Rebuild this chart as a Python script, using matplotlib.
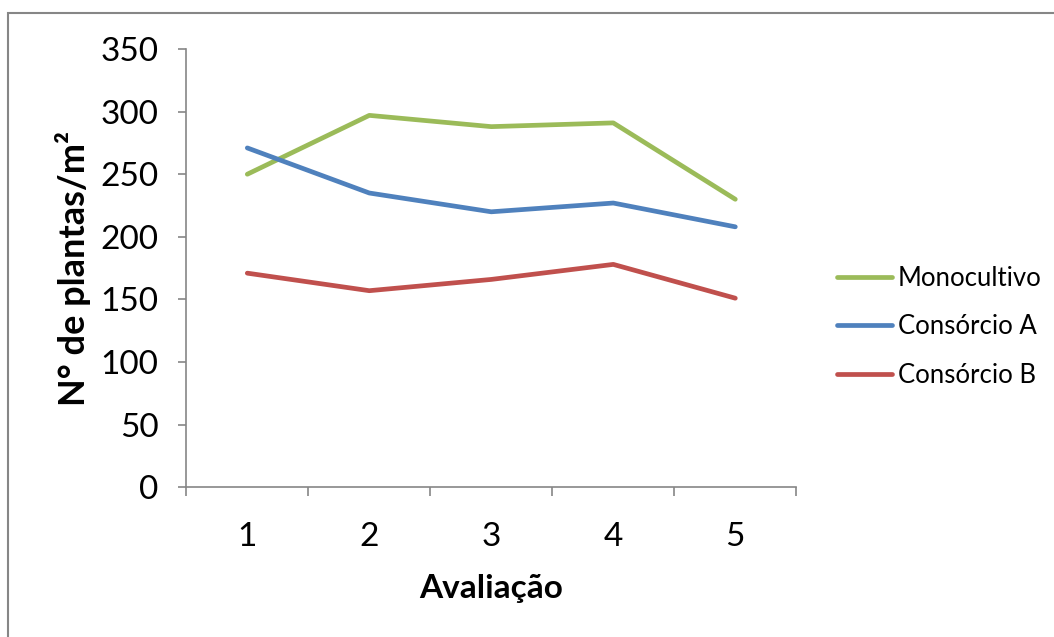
import matplotlib
matplotlib.use("Agg")
import matplotlib.pyplot as plt
from matplotlib.patches import Rectangle
from matplotlib.ticker import FixedLocator, NullFormatter

avaliacoes = [1, 2, 3, 4, 5]
monocultivo = [250, 297, 288, 291, 230]
consorcio_a = [271, 235, 220, 227, 208]
consorcio_b = [171, 157, 166, 178, 151]
y_ticks = [0, 50, 100, 150, 200, 250, 300, 350]

plt.rcParams["font.family"] = ["Lato", "DejaVu Sans"]

W, H = 1054, 637
fig = plt.figure(figsize=(W / 100, H / 100), dpi=100)

# outer chart border (top and left edges visible)
fig.patches.append(Rectangle((8 / W, -0.1), 1.2, (H - 13) / H + 0.1,
                             transform=fig.transFigure, fill=False,
                             edgecolor="#868686", linewidth=1.5))

ax = fig.add_axes([186.3 / W, 1 - 487.3 / H, 610 / W, 438.3 / H])

gray = "#868686"
ax.plot(avaliacoes, monocultivo, color="#9BBB59", lw=3.4, label="Monocultivo",
        solid_capstyle="round", solid_joinstyle="round")
ax.plot(avaliacoes, consorcio_a, color="#4F81BD", lw=3.4, label="Consórcio A",
        solid_capstyle="round", solid_joinstyle="round")
ax.plot(avaliacoes, consorcio_b, color="#C0504D", lw=3.4, label="Consórcio B",
        solid_capstyle="round", solid_joinstyle="round")

ax.set_xlim(0.5, 5.5)
ax.set_ylim(0, 350)
ax.set_yticks(y_ticks)
ax.set_yticklabels([str(v) for v in y_ticks])

# category ticks sit between categories; labels at category centres
ax.xaxis.set_major_locator(FixedLocator([0.5, 1.5, 2.5, 3.5, 4.5, 5.5]))
ax.xaxis.set_major_formatter(NullFormatter())
ax.xaxis.set_minor_locator(FixedLocator(avaliacoes))
ax.set_xticklabels([str(a) for a in avaliacoes], minor=True)
ax.tick_params(axis="x", which="major", length=6.5, width=1.2, color=gray,
               direction="out")
ax.tick_params(axis="x", which="minor", length=0, pad=25, labelsize=24)
ax.tick_params(axis="y", length=6, width=1.2, color=gray, pad=14, labelsize=24)

for side in ("top", "right"):
    ax.spines[side].set_visible(False)
for side in ("left", "bottom"):
    ax.spines[side].set_color(gray)
    ax.spines[side].set_linewidth(1.2)

ax.set_xlabel("Avaliação", fontsize=24, fontweight="bold", labelpad=16)
ax.set_ylabel("N° de plantas/m²", fontsize=26, fontweight="bold", labelpad=7)

leg = ax.legend(loc="center left", bbox_to_anchor=(1.029, 0.366), frameon=False,
                fontsize=18.5, handlelength=2.14, handletextpad=0.23,
                labelspacing=0.9)

fig.savefig("out.png", dpi=100, facecolor="white")
